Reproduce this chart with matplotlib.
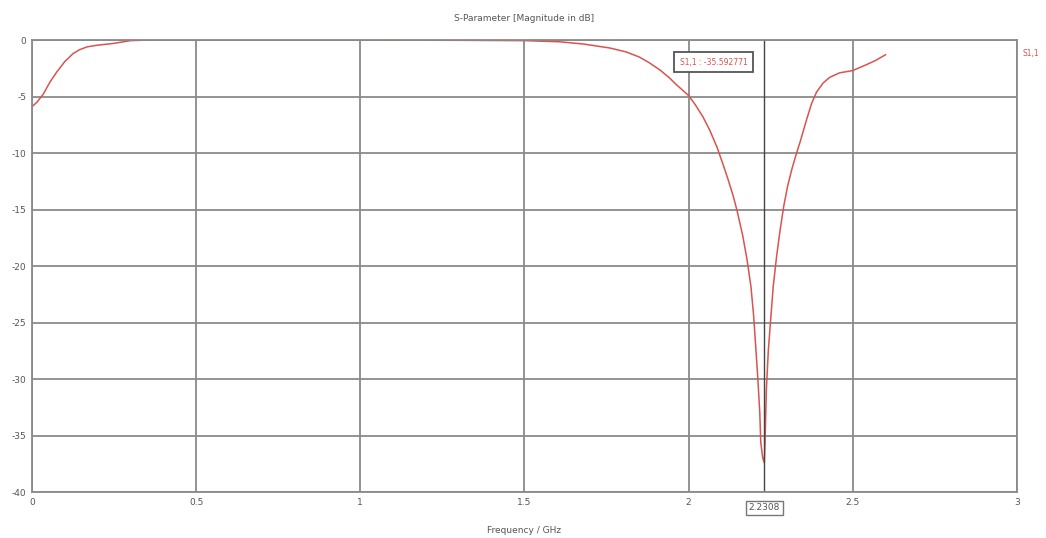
import numpy as np
import matplotlib
matplotlib.use("Agg")
import matplotlib.pyplot as plt

# S1,1 magnitude (dB)
freq_ghz = [0.0, 0.015, 0.034, 0.055, 0.076, 0.1, 0.125, 0.145, 0.168, 0.2, 0.247, 0.3, 0.35,
            0.5, 0.8, 1.0, 1.3, 1.5, 1.608, 1.68, 1.76, 1.81, 1.85, 1.88, 1.913, 1.94, 1.965,
            2.0, 2.02, 2.044, 2.065, 2.087, 2.105, 2.12, 2.135, 2.147, 2.165, 2.178, 2.19,
            2.198, 2.205, 2.212, 2.217, 2.22, 2.226, 2.2308, 2.233, 2.237, 2.243, 2.25, 2.258,
            2.268, 2.278, 2.29, 2.302, 2.315, 2.327, 2.34, 2.36, 2.375, 2.39, 2.41, 2.43, 2.46,
            2.5, 2.54, 2.57, 2.6]
s11_db = [-5.9, -5.5, -4.8, -3.7, -2.8, -1.9, -1.2, -0.85, -0.6, -0.45, -0.3, -0.05, 0.0,
          0.0, 0.0, 0.0, -0.02, -0.05, -0.15, -0.35, -0.7, -1.05, -1.5, -2.0, -2.65, -3.3, -4.0,
          -4.9, -5.7, -6.8, -8.0, -9.5, -11.0, -12.3, -13.7, -15.0, -17.3, -19.4, -21.8,
          -24.3, -27.3, -30.4, -33.0, -35.6, -37.0, -37.4, -35.6, -31.0, -27.5, -24.8, -21.8,
          -19.2, -17.0, -14.7, -12.9, -11.4, -10.2, -9.0, -7.0, -5.6, -4.6, -3.8, -3.3, -2.9,
          -2.7, -2.2, -1.8, -1.3]

marker_f = 2.2308
marker_label = "S1,1 : -35.592771"
x_ticks = [0, 0.5, 1, 1.5, 2, 2.5, 3]
y_ticks = [0, -5, -10, -15, -20, -25, -30, -35, -40]

plt.rcParams['font.family'] = ['DejaVu Sans']
fig = plt.figure(figsize=(10.46, 5.38), dpi=100)
ax = fig.add_axes([0.0306, 0.0855, 0.9415, 0.840])

red = "#d9534f"
grid_c = "#8a8a8a"
txt_c = "#555555"

ax.plot(freq_ghz, s11_db, color=red, lw=1.1)
ax.set_xlim(0, 3)
ax.set_ylim(-40, 0)
ax.set_xticks(x_ticks)
ax.set_xticklabels([str(t) for t in x_ticks])
ax.set_yticks(y_ticks)
ax.set_yticklabels([str(t) for t in y_ticks])
ax.grid(True, color=grid_c, lw=1.3)
ax.set_axisbelow(True)
for s in ax.spines.values():
    s.set_color(grid_c)
    s.set_linewidth(1.3)
ax.tick_params(length=0, labelsize=6.5, colors=txt_c, pad=4)

# marker line and readouts
ax.axvline(marker_f, color="#444444", lw=1.0)
ax.text(2.077, -1.95, marker_label, color=red, fontsize=5.5, ha="center", va="center",
        bbox=dict(boxstyle="square,pad=0.75", fc="white", ec="#555555", lw=1.3))
ax.text(marker_f, -41.4, "2.2308", color=txt_c, fontsize=6.5, ha="center", va="center",
        bbox=dict(boxstyle="square,pad=0.3", fc="white", ec="#777777", lw=1.0))
ax.text(1.014, -1.2, "S1,1", color=red, fontsize=5.5, ha="center", va="center",
        transform=ax.get_yaxis_transform(), clip_on=False)

ax.set_title("S-Parameter [Magnitude in dB]", fontsize=6.5, color=txt_c, pad=14)
ax.set_xlabel("Frequency / GHz", fontsize=6.5, color=txt_c, labelpad=14)

fig.savefig("out.png", dpi=100, facecolor="white")
